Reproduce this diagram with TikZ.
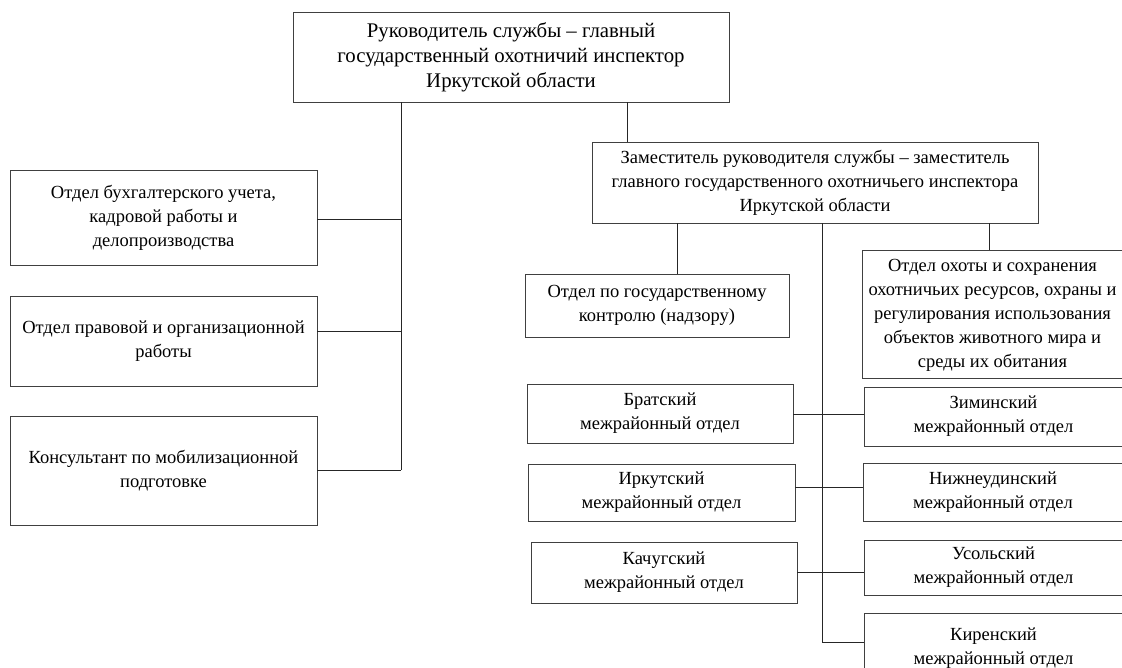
\documentclass[tikz,border=0pt]{standalone}
\usepackage{fontspec}
\setmainfont{Liberation Serif}
\begin{document}
\begin{tikzpicture}[x=1pt,y=-1pt,
  box/.style={draw=black!75, line width=0.9pt, align=center, inner sep=0pt,
    font=\fontsize{18.5}{24}\selectfont, text=black},
  bigbox/.style={box, font=\fontsize{20.8}{25}\selectfont},
  conn/.style={draw=black!85, line width=0.8pt}]
\useasboundingbox (0,0) rectangle (1122,668);
% top
\node[bigbox, minimum width=436, minimum height=90] (top) at (511,57)
  {Руководитель службы – главный\\государственный охотничий инспектор\\Иркутской области};
\node[box, minimum width=446, minimum height=81] (dep) at (815,182.5)
  {Заместитель руководителя службы – заместитель\\главного государственного охотничьего инспектора\\Иркутской области};
% left
\node[box, minimum width=307, minimum height=95] (b1) at (163.5,217.5)
  {Отдел бухгалтерского учета,\\кадровой работы и\\делопроизводства};
\node[box, minimum width=307, minimum height=90] (b2) at (163.5,341)
  {Отдел правовой и организационной\\работы};
\node[box, minimum width=307, minimum height=109] (b3) at (163.5,470.5)
  {Консультант по мобилизационной\\подготовке};
% right
\node[box, minimum width=264, minimum height=63] (ctrl) at (657,305.5)
  {Отдел по государственному\\контролю (надзору)};
\node[box, minimum width=261, minimum height=128, text depth=2pt] (hunt) at (992.5,314)
  {Отдел охоты и сохранения\\охотничьих ресурсов, охраны и\\регулирования использования\\объектов животного мира и\\среды их обитания};
\node[box, minimum width=266, minimum height=59] (brat) at (660,413.5)
  {Братский\\межрайонный отдел};
\node[box, minimum width=267, minimum height=57] (irk) at (661.5,492.5)
  {Иркутский\\межрайонный отдел};
\node[box, minimum width=266, minimum height=61] (kach) at (664,572.5)
  {Качугский\\межрайонный отдел};
\node[box, minimum width=259, minimum height=59] (zim) at (993.5,416.5)
  {Зиминский\\межрайонный отдел};
\node[box, minimum width=260, minimum height=58] (nizh) at (993,492)
  {Нижнеудинский\\межрайонный отдел};
\node[box, minimum width=259, minimum height=55] (usol) at (993.5,567.5)
  {Усольский\\межрайонный отдел};
\node[box, minimum width=259, minimum height=67, text depth=0pt] (kir) at (993.5,646.5)
  {Киренский\\межрайонный отдел};
% connectors
\coordinate (lbus) at (401,470);
\draw[conn] (top.south -| lbus) -- (lbus);
\draw[conn] (b1.east |- 0,219) -- (lbus |- 0,219);
\draw[conn] (b2.east |- 0,331) -- (lbus |- 0,331);
\draw[conn] (b3.east |- lbus) -- (lbus);
\draw[conn] (top.south -| 627,0) -- (dep.north -| 627,0);
\draw[conn] (dep.south -| 677,0) -- (ctrl.north -| 677,0);
\draw[conn] (dep.south -| 989,0) -- (hunt.north -| 989,0);
\coordinate (rbus) at (822,642);
\draw[conn] (dep.south -| rbus) -- (rbus) -- (kir.west |- rbus);
\draw[conn] (brat.east |- 0,414) -- (zim.west |- 0,414);
\draw[conn] (irk.east |- 0,487) -- (nizh.west |- 0,487);
\draw[conn] (kach.east |- 0,572) -- (usol.west |- 0,572);
\end{tikzpicture}
\end{document}
